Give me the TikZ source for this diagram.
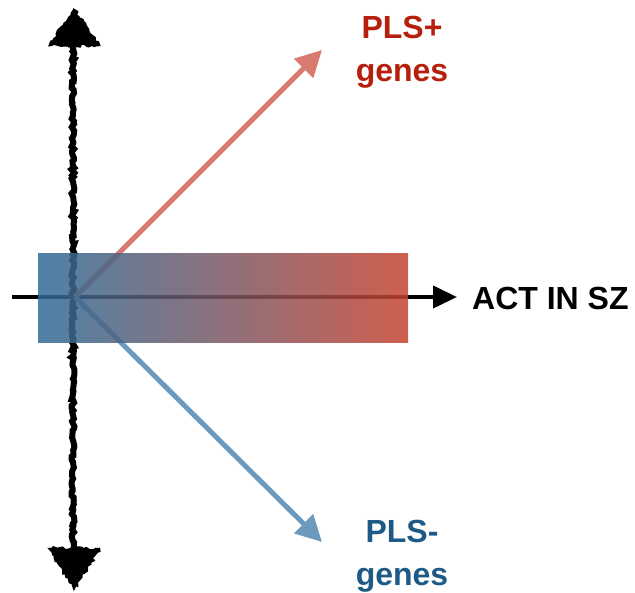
\documentclass[tikz,border=0pt]{standalone}
\usepackage{fontspec}
\setmainfont{Liberation Sans}
\usetikzlibrary{arrows.meta,decorations.pathmorphing}
\definecolor{plsred}{HTML}{B51F0C}
\definecolor{plsblue}{HTML}{1E5A86}
\definecolor{arrred}{HTML}{D97A70}
\definecolor{arrblue}{HTML}{6C9ABF}
\definecolor{barblue}{HTML}{2F6C98}
\definecolor{barred}{HTML}{C6432F}
\tikzset{
  lbl/.style={font=\bfseries\fontsize{32}{43}\selectfont, align=center, inner sep=0pt},
  rough/.style={decorate, decoration={random steps, segment length=2.5pt, amplitude=1.5pt}},
  axisarrow/.style={line width=4pt, -{Triangle[length=24pt,width=22pt]}},
  genearrow/.style={line width=5pt, -{Triangle[length=26pt,width=26pt]}},
}
\begin{document}
\begin{tikzpicture}[x=1pt,y=-1pt]
\useasboundingbox (0,0) rectangle (635,593);
% origin and arrow ends
\coordinate (o) at (75,297);
\coordinate (xl) at (12,297);
\coordinate (xr) at (457,297);
\coordinate (up) at (322,50);
\coordinate (dn) at (322,542);
\coordinate (vt) at (73,40);
\coordinate (vb) at (73,552);
% rough vertical axis
\draw[rough, line width=6pt, line cap=round] (vt) -- (vb);
\fill[rough, draw, line width=2.5pt] (74,10) -- (99,45) -- (50,45) -- cycle;
\fill[rough, draw, line width=2.5pt] (74,588) -- (99,549) -- (50,549) -- cycle;
% horizontal axis
\draw[axisarrow] (xl) -- (xr);
% gene arrows
\draw[genearrow, arrred] (o) -- (up);
\draw[genearrow, arrblue] (o) -- (dn);
% gradient bar
\shade[left color=barblue, right color=barred, opacity=0.85] (38,254) rectangle (408,343);
% labels
\node[lbl, text=plsred] (plus) at (402,52) {PLS+\\genes};
\node[lbl, text=plsblue] (minus) at (402,556) {PLS-\\genes};
\node[lbl, anchor=west] (act) at (472,298) {ACT IN SZ};
\end{tikzpicture}
\end{document}
